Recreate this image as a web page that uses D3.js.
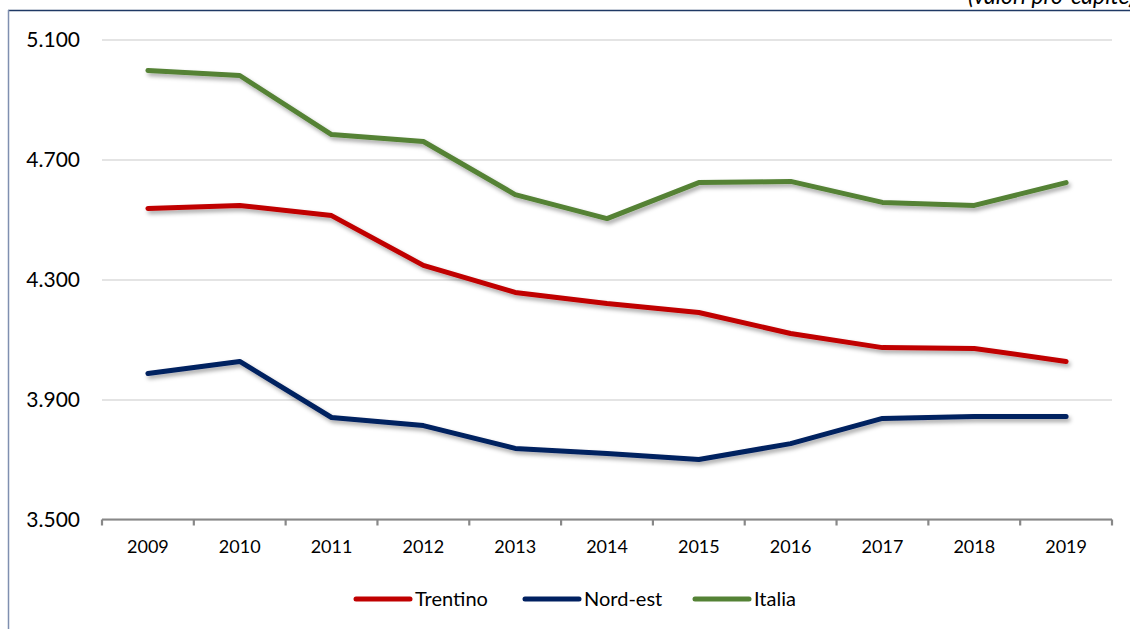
<!DOCTYPE html>
<html>
<head>
<meta charset="utf-8">
<script src="https://cdn.jsdelivr.net/npm/d3@7"></script>
<style>
  body { margin: 0; background: #fff; }
  svg { display: block; font-family: Lato, "Open Sans", sans-serif; }
</style>
</head>
<body>
<svg width="1130" height="629"></svg>
<script>
const years = ["2009", "2010", "2011", "2012", "2013", "2014", "2015", "2016", "2017", "2018", "2019"];
const trentino = [4537, 4547, 4513, 4347, 4257, 4220, 4190, 4120, 4073, 4070, 4027];
const nordEst = [3987, 4027, 3840, 3813, 3737, 3720, 3700, 3753, 3837, 3843, 3843];
const italia = [4997, 4980, 4783, 4760, 4583, 4503, 4623, 4627, 4557, 4547, 4623];
const yTicks = [3500, 3900, 4300, 4700, 5100];

const series = [
    { name: "Trentino", values: trentino, color: "#C00000" },
    { name: "Nord-est", values: nordEst, color: "#002060" },
    { name: "Italia", values: italia, color: "#548235" }
];

const svg = d3.select("svg");

const x = d3.scaleBand().domain(years).range([102, 1112]).padding(0);
const y = d3.scaleLinear().domain([3500, 5100]).range([519.5, 39.5]);

// shadow for the lines
const defs = svg.append("defs");
defs.append("filter")
    .attr("id", "shadow")
    .attr("x", "-10%").attr("y", "-20%")
    .attr("width", "120%").attr("height", "140%")
    .append("feDropShadow")
    .attr("dx", 2).attr("dy", 3)
    .attr("stdDeviation", 2)
    .attr("flood-color", "#000")
    .attr("flood-opacity", 0.35);

// outer frame
svg.append("line")
    .attr("x1", 8).attr("x2", 1130).attr("y1", 10.5).attr("y2", 10.5)
    .attr("stroke", "#1F3864").attr("stroke-width", 1.5);
svg.append("line")
    .attr("x1", 8.5).attr("x2", 8.5).attr("y1", 10).attr("y2", 629)
    .attr("stroke", "#7F8FB0").attr("stroke-width", 1.5);

// caption, cut off at the top-right edge as in the source
svg.append("text")
    .attr("x", 968).attr("y", 4)
    .attr("font-size", 23).attr("font-style", "italic")
    .attr("fill", "#000")
    .text("(valori pro-capite)");

// Y grid + labels
const grid = svg.append("g")
    .call(d3.axisLeft(y)
        .tickValues(yTicks)
        .tickSize(-(1112 - 102))
        .tickPadding(22)
        .tickFormat(d => d3.format(",")(d).replace(/,/g, ".")))
    .attr("transform", "translate(102,0)");
grid.select(".domain").remove();
grid.selectAll("line")
    .attr("stroke", "#c9c9c9").attr("stroke-width", 1.2);
grid.selectAll("text")
    .attr("font-size", 21).attr("fill", "#000")
    .attr("font-family", "Lato, sans-serif");

// X axis
const xAxis = svg.append("g")
    .attr("transform", `translate(0,${y(3500)})`)
    .call(d3.axisBottom(x).tickSize(0).tickPadding(21));
xAxis.select(".domain").remove();
xAxis.selectAll("text")
    .attr("font-size", 18).attr("fill", "#000")
    .attr("font-family", "Lato, sans-serif");

svg.append("line")
    .attr("x1", 102).attr("x2", 1112)
    .attr("y1", y(3500)).attr("y2", y(3500))
    .attr("stroke", "#888").attr("stroke-width", 2.2);

const tickPos = years.map(d => x(d)).concat([x.range()[1]]);
svg.append("g").selectAll("line")
    .data(tickPos)
    .enter().append("line")
    .attr("x1", d => d).attr("x2", d => d)
    .attr("y1", y(3500)).attr("y2", y(3500) + 6)
    .attr("stroke", "#888").attr("stroke-width", 2.2);

// Lines
const line = d3.line()
    .x((d, i) => x(years[i]) + x.bandwidth() / 2)
    .y(d => y(d));

svg.append("g").selectAll("path")
    .data(series)
    .enter().append("path")
    .attr("fill", "none")
    .attr("stroke", d => d.color)
    .attr("stroke-width", 5)
    .attr("stroke-linecap", "round")
    .attr("stroke-linejoin", "round")
    .attr("filter", "url(#shadow)")
    .attr("d", d => line(d.values));

// Legend
const legendX = [355, 524, 694];
const legend = svg.append("g").selectAll("g")
    .data(series)
    .enter().append("g")
    .attr("transform", (d, i) => `translate(${legendX[i]},599)`);

legend.append("line")
    .attr("x1", 1).attr("x2", 55)
    .attr("stroke", d => d.color)
    .attr("stroke-width", 5)
    .attr("stroke-linecap", "round");

legend.append("text")
    .attr("x", 60).attr("y", 7)
    .attr("font-size", 20).attr("fill", "#000")
    .text(d => d.name);
</script>
</body>
</html>
